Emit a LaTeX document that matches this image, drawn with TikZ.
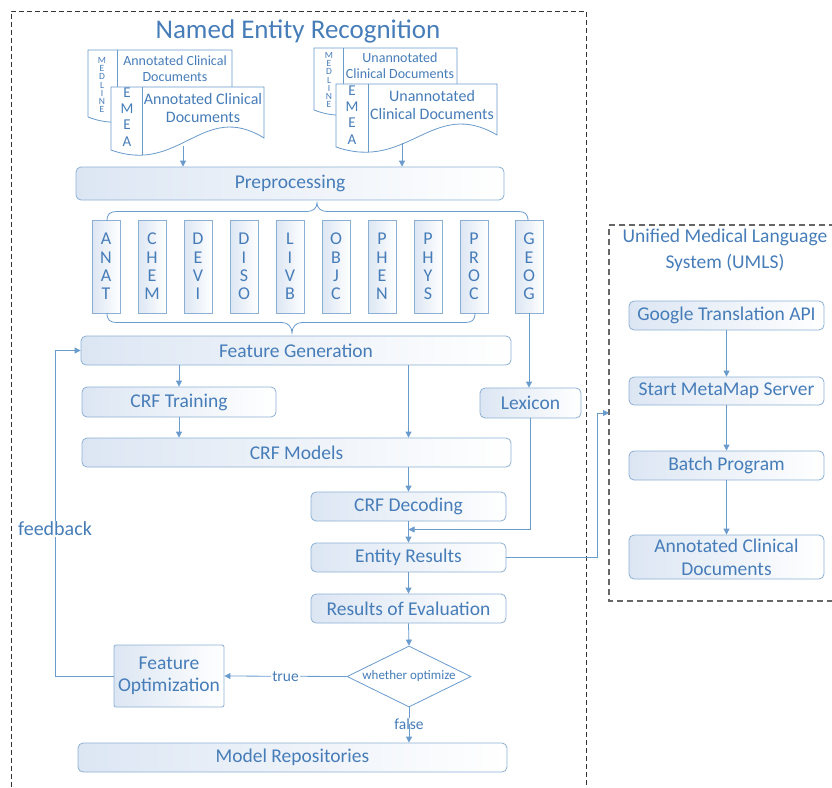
\documentclass[tikz,border=0pt]{standalone}
\usepackage{fontspec}
\setmainfont{Carlito}
\usetikzlibrary{arrows.meta,shapes.geometric,calc}
\definecolor{tc}{RGB}{70,125,185}
\definecolor{lc}{RGB}{105,155,205}
\definecolor{bc}{RGB}{140,175,212}
\definecolor{fl}{RGB}{220,230,243}
\newcommand{\docshp}[4]{(#1,#3) -- (#2,#3) -- (#2,{#4-12}) .. controls ({#1+0.6*(#2-#1)},{#4-50}) and ({#1+0.45*(#2-#1)},{#4+25}) .. (#1,#4) -- cycle}
\newcommand{\mydoc}[5]{%
  \fill[white] \docshp{#1}{#2}{#3}{#4};
  \begin{scope}\clip \docshp{#1}{#2}{#3}{#4}; \draw[docline] (#5,#3) -- (#5,{#4+40}); \end{scope}
  \draw[docline] \docshp{#1}{#2}{#3}{#4};}
\begin{document}
\begin{tikzpicture}[x=1pt,y=-1pt,
  docline/.style={draw=lc, line width=0.8pt},
  box/.style={draw=bc, line width=0.8pt, rounded corners=5pt, left color=fl, right color=white, text=tc,
    font=\fontsize{19.5}{22}\selectfont, inner sep=0pt, align=center},
  cat/.style={draw=bc, line width=0.8pt, left color=fl, right color=white, text=tc,
    font=\fontsize{18}{18.3}\selectfont, inner sep=0pt, align=center, minimum width=28, minimum height=93},
  arr/.style={draw=lc, line width=0.8pt, -{Triangle[width=6pt,length=6pt]}},
  ln/.style={draw=lc, line width=0.8pt},
  lbl/.style={text=tc, inner sep=1pt, fill=white},
  dtext/.style={text=tc, align=center, inner sep=0pt}]
\useasboundingbox (0,0) rectangle (832,787);
% outer dashed frames
\draw[black!80, line width=0.6pt, dash pattern=on 5pt off 3pt] (11,787) -- (11,11) -- (586,11) -- (586,787);
\draw[black!60, line width=1.1pt, dash pattern=on 6pt off 4pt] (835,225) -- (609,225) -- (609,601) -- (835,601);
% titles
\node[text=tc, font=\fontsize{27}{30}\selectfont] (title) at (298,31) {Named Entity Recognition};
\node[text=tc, font=\fontsize{19.5}{26}\selectfont, align=center] (utitle) at (725,250) {Unified Medical Language\\System (UMLS)};
% documents
\mydoc{88}{232}{50}{117}{117}
\node[dtext, font=\fontsize{9.5}{8.2}\selectfont] (med1) at (102,85) {M\\E\\D\\L\\I\\N\\E};
\node[dtext, font=\fontsize{14}{16}\selectfont] (d1t) at (175,69) {Annotated Clinical\\Documents};
\mydoc{111}{264}{87}{150}{142}
\node[dtext, font=\fontsize{15}{16.3}\selectfont] (emea1) at (127,117) {E\\M\\E\\A};
\node[dtext, font=\fontsize{16}{18.5}\selectfont] (d2t) at (203,108) {Annotated Clinical\\Documents};
\mydoc{314}{457}{48}{110}{343}
\node[dtext, font=\fontsize{9.5}{8.2}\selectfont] (med2) at (329,80) {M\\E\\D\\L\\I\\N\\E};
\node[dtext, font=\fontsize{14}{16}\selectfont] (d3t) at (400,66) {Unannotated\\Clinical Documents};
\mydoc{336}{497}{84}{147}{368}
\node[dtext, font=\fontsize{15}{16.3}\selectfont] (emea2) at (352,115) {E\\M\\E\\A};
\node[dtext, font=\fontsize{16}{18.5}\selectfont] (d4t) at (432,105) {Unannotated\\Clinical Documents};
\coordinate (da) at (183,146);
\coordinate (db) at (402,143);
% main boxes
\node[box, minimum width=428, minimum height=33] (pre) at (290,183.5) {Preprocessing};
\foreach \n/\t/\x in {anat/A\\N\\A\\T/106, chem/C\\H\\E\\M/152, devi/D\\E\\V\\I/198, diso/D\\I\\S\\O/244,
  livb/L\\I\\V\\B/290, objc/O\\B\\J\\C/336, phen/P\\H\\E\\N/382, phys/P\\H\\Y\\S/428, proc/P\\R\\O\\C/474, geog/G\\E\\O\\G/529}
  {\node[cat] (\n) at (\x,266.5) {\t};}
\node[box, minimum width=430, minimum height=29] (fg) at (296,350.5) {Feature Generation};
\node[box, minimum width=194, minimum height=30] (crft) at (179,402) {CRF Training};
\node[box, minimum width=101, minimum height=30] (lex) at (530.5,403) {Lexicon};
\node[box, minimum width=429, minimum height=29] (crfm) at (296.5,452.5) {CRF Models};
\node[box, minimum width=195, minimum height=29] (dec) at (408.5,506.5) {CRF Decoding};
\node[box, minimum width=195, minimum height=29] (ent) at (408.5,557.5) {Entity Results};
\node[box, minimum width=195, minimum height=29] (eval) at (408.5,608.5) {Results of Evaluation};
\node[draw=lc, line width=0.8pt, diamond, aspect=2.03, minimum width=124, minimum height=61, inner sep=0pt, fill=white,
  text=tc, font=\fontsize{13}{14}\selectfont] (dia) at (409,676.5) {whether optimize};
\node[box, rounded corners=2pt, minimum width=110, minimum height=62] (fopt) at (169,676) {Feature\\Optimization};
\node[box, minimum width=429, minimum height=29] (repo) at (292.5,757.5) {Model Repositories};
% UMLS boxes
\node[box, minimum width=195, minimum height=29] (gta) at (726.5,315.5) {Google Translation API};
\node[box, minimum width=195, minimum height=28] (mms) at (726.5,391) {Start MetaMap Server};
\node[box, minimum width=195, minimum height=29] (bp) at (726.5,465.5) {Batch Program};
\node[box, minimum width=195, minimum height=44, font=\fontsize{19.5}{23}\selectfont] (acd) at (726.5,557) {Annotated Clinical\\Documents};
% braces
\draw[ln] (107,221) .. controls (107,214) and (110,211.5) .. (117,211.5) -- (307,211.5)
  .. controls (313,211.5) and (317,208) .. (317,203) .. controls (317,208) and (321,211.5) .. (327,211.5)
  -- (518,211.5) .. controls (525,211.5) and (528,214) .. (528,221);
\draw[ln] (107,313) .. controls (107,320) and (110,322.5) .. (117,322.5) -- (282,322.5)
  .. controls (288,322.5) and (292,327) .. (292,333) .. controls (292,327) and (296,322.5) .. (302,322.5)
  -- (465,322.5) .. controls (472,322.5) and (475,320) .. (475,313);
% connectors
\draw[arr] (da) -- (da |- pre.north);
\draw[arr] (db) -- (db |- pre.north);
\draw[arr] (geog.south) -- (geog.south |- lex.north);
\draw[arr] (crft.north |- fg.south) -- (crft.north);
\draw[arr] (crft.south) -- (crft.south |- crfm.north);
\draw[arr] (dec.north |- fg.south) -- (dec.north |- crfm.north);
\draw[arr] (dec.north |- crfm.south) -- (dec.north);
\draw[arr] (dec.south) -- (ent.north);
\coordinate (lj) at (408.5,529.5);
\draw[arr] (lex.south) |- (lj);
\draw[arr] (ent.south) -- (eval.north);
\draw[arr] (eval.south) -- (dia.north);
\draw[arr] (dia.west) -- node[lbl, font=\fontsize{15.5}{17}\selectfont] (truel) {true} (fopt.east);
\coordinate (fj) at (dia.south |- 724,724);
\draw[ln] (dia.south) -- (fj);
\node[lbl, font=\fontsize{15.5}{17}\selectfont] (falsel) at (fj) {false};
\draw[arr] (fj) -- (fj |- repo.north);
\coordinate (fb) at (55,529);
\draw[ln] (fopt.west) -| (fb);
\draw[arr] (fb) |- (fg.west);
\node[lbl, font=\fontsize{20}{22}\selectfont] (fbl) at (fb) {feedback};
\coordinate (uk) at (597,413);
\coordinate (uin) at (609,413);
\draw[ln] (ent.east) -| (uk);
\draw[arr] (uk) -- (uin);
\draw[arr] (gta.south) -- (mms.north);
\draw[arr] (mms.south) -- (bp.north);
\draw[arr] (bp.south) -- (acd.north);
\end{tikzpicture}
\end{document}
